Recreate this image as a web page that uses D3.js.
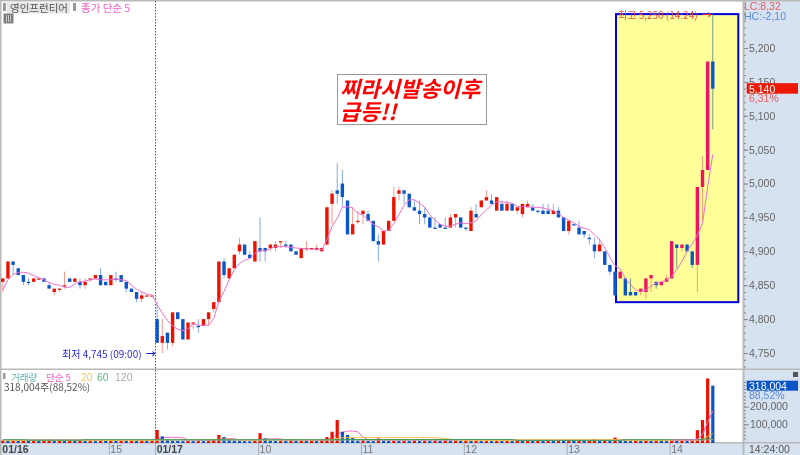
<!DOCTYPE html>
<html><head><meta charset="utf-8">
<script src="https://cdn.jsdelivr.net/npm/d3@7"></script>
<style>
html,body{margin:0;padding:0;background:#fff}
svg{display:block;filter:blur(0.35px)}
text{font-family:"Liberation Sans","Noto Sans CJK KR",sans-serif}
.kr{font-family:"Noto Sans CJK KR",sans-serif}
</style></head><body><svg id="c" width="800" height="455"></svg>
<script>
const open=[4855,4860,4885,4875,4865,4855,4855,4860,4860,4850,
4840,4845,4850,4860,4855,4855,4850,4860,4860,4865,
4855,4850,4860,4865,4855,4845,4840,4830,4835,4835,
4800,4765,4780,4765,4810,4800,4770,4795,4790,4790,
4800,4815,4825,4885,4860,4875,4900,4910,4895,4885,
4905,4905,4905,4905,4915,4910,4910,4900,4890,4905,
4905,4905,4900,4910,4970,4990,5000,4975,4925,4945,
4955,4955,4945,4915,4910,4930,4945,4985,4990,4985,
4965,4960,4955,4950,4935,4940,4935,4935,4950,4950,
4935,4930,4955,4965,4975,4975,4960,4970,4960,4970,
4960,4955,4965,4965,4960,4960,4960,4955,4960,4950,
4930,4940,4935,4930,4920,4910,4900,4900,4880,4870,
4860,4860,4840,4840,4840,4840,4860,4855,4850,4855,
4860,4910,4905,4910,4900,4880,4995,5020,5180];
const close=[4860,4885,4880,4865,4855,4855,4860,4860,4855,4845,
4845,4845,4850,4855,4860,4850,4855,4860,4865,4850,
4850,4865,4860,4855,4845,4840,4830,4835,4835,4835,
4765,4775,4765,4810,4800,4770,4795,4795,4790,4800,
4810,4825,4885,4865,4875,4895,4910,4895,4890,4915,
4900,4900,4910,4910,4915,4910,4900,4895,4905,4905,
4905,4905,4905,4965,4985,4985,4980,4925,4940,4945,
4960,4945,4915,4910,4930,4945,4980,4990,4985,4965,
4960,4955,4950,4935,4935,4935,4935,4950,4955,4935,
4935,4960,4950,4975,4980,4970,4980,4960,4970,4960,
4965,4970,4970,4960,4960,4955,4955,4960,4950,4930,
4945,4940,4925,4925,4920,4900,4910,4880,4870,4835,
4870,4835,4835,4835,4845,4860,4865,4850,4855,4860,
4915,4905,4910,4900,4880,4995,5020,5180,5140];
const high=[4860,4885,4885,4875,4865,4860,4860,4860,4860,4855,
4845,4845,4870,4860,4860,4860,4860,4860,4865,4875,
4855,4865,4870,4865,4855,4845,4840,4840,4835,4835,
4825,4800,4780,4810,4810,4800,4795,4795,4800,4800,
4810,4825,4885,4890,4875,4895,4920,4910,4900,4915,
4950,4905,4910,4915,4915,4915,4910,4900,4905,4915,
4905,4910,4905,4965,4990,5030,5020,4975,4965,4960,
4960,4960,4945,4925,4930,4945,4995,4995,4990,4985,
4975,4975,4965,4950,4950,4940,4950,4955,4955,4950,
4935,4965,4970,4975,4990,4985,4980,4975,4975,4970,
4965,4970,4975,4970,4960,4970,4970,4970,4965,4950,
4945,4940,4945,4930,4925,4920,4920,4900,4880,4870,
4870,4860,4860,4840,4845,4860,4865,4855,4855,4865,
4915,4910,4910,4910,4900,4995,5040,5180,5250];
const low=[4840,4860,4865,4865,4850,4850,4855,4860,4855,4845,
4835,4840,4845,4855,4855,4845,4845,4855,4860,4850,
4850,4850,4855,4855,4840,4840,4825,4825,4835,4835,
4765,4750,4755,4760,4800,4770,4770,4785,4780,4790,
4790,4810,4825,4860,4860,4875,4895,4895,4890,4885,
4885,4885,4900,4900,4905,4905,4900,4895,4890,4900,
4905,4900,4900,4910,4940,4970,4965,4925,4925,4940,
4940,4945,4915,4885,4910,4930,4945,4975,4970,4965,
4960,4940,4940,4935,4935,4935,4935,4935,4935,4935,
4930,4930,4950,4965,4975,4970,4960,4960,4960,4960,
4955,4950,4965,4960,4955,4955,4955,4955,4950,4930,
4925,4940,4925,4920,4910,4890,4900,4880,4865,4835,
4860,4835,4835,4835,4835,4830,4840,4845,4850,4855,
4860,4875,4900,4900,4875,4840,4945,5020,5080];
const candleDir=("rrbbbbrrbb rrrbrbrrrb brbbbbbrrr brbrbbrrbr rrrbrrrbbr "+
"bbrrrbbbrr rrrrrbbbrr rbbbrrrrbb bbbbbbbrrb brbrrbrbrb "+
"rrrbbbbrbb rbbbbbrbbb rbbbrrrbrr rbrbbrrrb").replace(/ /g,"").split("");
const priceMA=[4843,4858,4866,4869,4869,4868,4864,4861,4858,4854,
4851,4850,4847,4847,4852,4855,4856,4858,4859,4858,
4858,4858,4859,4858,4857,4850,4844,4840,4837,4835,
4821,4809,4798,4790,4785,4783,4786,4793,4791,4791,
4791,4801,4826,4841,4858,4873,4882,4887,4889,4897,
4901,4901,4904,4907,4907,4907,4906,4905,4904,4904,
4903,4903,4902,4917,4937,4949,4965,4966,4964,4956,
4954,4946,4940,4936,4930,4931,4941,4954,4968,4976,
4976,4971,4965,4954,4946,4940,4937,4937,4940,4942,
4941,4942,4945,4954,4961,4968,4973,4973,4972,4971,
4966,4966,4966,4965,4965,4964,4962,4960,4956,4950,
4946,4942,4937,4934,4932,4924,4917,4905,4891,4879,
4874,4860,4851,4843,4841,4843,4849,4853,4855,4858,
4863,4873,4885,4900,4911,4924,4941,4995,5043];
const volume=[8,6,8,6,8,6,8,6,8,14,
6,8,6,8,6,8,6,8,6,8,
6,8,6,8,6,8,6,8,6,8,
68,32,17,8,6,5,7,5,7,5,
8,12,40,28,12,8,6,5,4,8,
50,20,8,6,8,6,8,6,8,6,
8,6,10,28,58,124,58,40,22,8,
10,6,5,20,8,6,8,6,8,6,
8,6,8,6,8,6,8,6,8,6,
8,6,8,6,8,6,8,6,8,6,
8,6,8,6,8,6,8,6,8,6,
8,6,8,6,8,17,8,10,7,25,
8,6,5,9,6,8,6,8,6,5,
7,6,8,6,8,67,124,359,318];
const volMA5=[11,11,11,11,11,11,11,11,11,11,
11,11,11,11,11,11,11,11,11,11,
11,11,11,11,11,11,11,11,11,11,
20,24,26,26,26,24,12,11,11,11,
11,11,15,19,20,18,11,11,11,11,
14,18,18,18,18,11,11,11,11,11,
11,11,11,12,22,45,54,62,61,58,
28,12,11,11,11,11,11,11,11,11,
11,11,11,11,11,11,11,11,11,11,
11,11,11,11,11,11,11,11,11,11,
11,11,11,11,11,11,11,11,11,11,
11,11,11,11,11,11,11,11,11,13,
14,13,11,11,11,11,11,11,11,11,
11,11,11,11,11,16,41,112,175];
const volMA20=[9,9,9,9,9,9,9,9,9,9,
9,9,9,9,9,9,9,9,9,9,
9,9,9,9,9,9,9,9,9,9,
11,13,13,13,14,14,14,14,14,14,
14,14,15,16,16,14,12,11,11,11,
12,12,12,12,12,12,12,12,12,12,
12,12,12,13,15,21,24,25,25,25,
25,25,25,25,25,25,25,25,25,25,
25,25,25,25,24,22,20,16,12,10,
9,8,8,8,8,8,8,8,8,8,
13,13,13,13,13,13,13,13,13,13,
13,13,13,13,13,13,13,13,13,13,
13,9,9,9,9,9,9,9,9,9,
9,9,9,9,9,12,15,32,48];
const volMA60=[13,13,13,13,13,10,10,10,10,10,
10,10,10,10,10,10,13,13,13,13,
13,13,13,13,13,13,13,13,13,13,
13,13,13,13,13,13,13,13,13,13,
13,13,13,13,13,13,13,13,13,13,
13,13,13,13,13,13,13,13,13,13,
13,13,13,13,13,13,13,14,14,14,
14,14,14,14,14,14,14,14,14,14,
14,14,14,14,14,14,14,14,14,14,
14,14,14,14,14,14,14,14,14,14,
9,9,9,9,9,9,9,9,9,9,
9,9,9,9,9,9,9,9,9,9,
9,13,13,13,13,13,13,13,13,13,
13,13,13,13,13,14,15,18,20];
const volMA120=[10,10,10,10,10,13,13,13,13,13,
13,13,13,13,13,13,10,10,10,10,
10,10,10,10,10,10,10,10,10,10,
10,10,10,10,10,10,10,10,10,10,
10,10,10,10,10,10,10,10,10,10,
10,10,10,10,10,10,10,10,10,10,
10,10,10,10,10,10,10,10,10,10,
10,10,10,10,10,10,10,10,10,10,
10,10,10,10,10,10,10,10,10,10,
10,10,10,10,10,10,10,10,10,10,
10,10,10,10,10,10,10,10,10,10,
10,10,10,10,10,10,10,10,10,10,
10,10,10,10,10,10,10,10,10,10,
10,10,10,10,10,10,10,12,14];
const priceTicks=[5200,5150,5100,5050,5000,4950,4900,4850,4800,4750];
const volumeTicks=[200000,100000];
const timeIdx=[0,21,30,50,70,90,110,130];
const timeLabels=["01/16","15","01/17","10","11","12","13","14"];
const boxStartIdx=119;
const boxPrice=[5250,4825];

const W=800,H=455,axisX=743.5,paneBottom=369,timeTop=443;
const COL={r:"#ee1100",b:"#0a55c8",rw:"#f59a8f",bw:"#85a9ea",
  rBox:"#f01460",bBox:"#0a55c8",rwBox:"#f8a070",bwBox:"#6a9a90",
  panel:"#d6e2f0",edge:"#b9b9b9",tick:"#666"};

const svg=d3.select("#c");
const x=d3.scaleLinear().domain([0,138]).range([2.8,712.8]);
const y=d3.scaleLinear().domain([5200,4750]).range([48,353]);
const yV=d3.scaleLinear().domain([0,100000]).range([442,424.3]);
const idx=d3.range(open.length);

svg.append("rect").attr("width",W).attr("height",H).attr("fill","#fff");
svg.append("rect").attr("x",axisX).attr("y",1).attr("width",W-axisX).attr("height",H).attr("fill",COL.panel);
svg.append("rect").attr("x",0).attr("y",timeTop).attr("width",W).attr("height",H-timeTop).attr("fill",COL.panel);
svg.append("rect").attr("x",0).attr("y",0).attr("width",W).attr("height",1.5).attr("fill",COL.edge);
svg.append("rect").attr("x",0).attr("y",0).attr("width",1.5).attr("height",H).attr("fill",COL.edge);
svg.append("rect").attr("x",axisX-1).attr("y",0).attr("width",2).attr("height",H).attr("fill",COL.edge);
svg.append("rect").attr("x",0).attr("y",paneBottom-.5).attr("width",W).attr("height",1.5).attr("fill",COL.edge);
svg.append("rect").attr("x",0).attr("y",timeTop-1).attr("width",W).attr("height",1.5).attr("fill",COL.edge);

// yellow box
const boxX0=616,boxX1=738.3;
svg.append("rect").attr("x",boxX0).attr("y",y(boxPrice[0])).attr("width",boxX1-boxX0)
  .attr("height",y(boxPrice[1])-y(boxPrice[0])).attr("fill","#ffff99").attr("stroke","#0000e0").attr("stroke-width",2);

// dotted vertical
svg.append("line").attr("x1",155.5).attr("x2",155.5).attr("y1",1).attr("y2",timeTop)
  .attr("stroke","#555").attr("stroke-width",1).attr("stroke-dasharray","1.5 1.5");

// candles
const g=svg.append("g");
g.selectAll("line.w").data(idx).join("line").attr("class","w")
  .attr("x1",i=>x(i)).attr("x2",i=>x(i)).attr("y1",i=>y(high[i])).attr("y2",i=>y(low[i]))
  .attr("stroke",i=>{const k=candleDir[i];return i>=boxStartIdx?(k=="r"?COL.rwBox:COL.bwBox):(k=="r"?COL.rw:COL.bw)})
  .attr("stroke-width",1);
g.selectAll("rect.b").data(idx).join("rect").attr("class","b")
  .attr("x",i=>x(i)-1.7).attr("width",3.4)
  .attr("y",i=>y(Math.max(open[i],close[i])))
  .attr("height",i=>Math.max(1.3,Math.abs(y(open[i])-y(close[i]))))
  .attr("fill",i=>{const k=candleDir[i];return i>=boxStartIdx?(k=="r"?COL.rBox:COL.bBox):(k=="r"?COL.r:COL.b)});
svg.append("path").datum(idx).attr("fill","none").attr("stroke","#f070d0").attr("stroke-width",1)
  .attr("d",d3.line().x(i=>x(i)).y(i=>y(priceMA[i])));

// volume: moving averages and bars
const maLine=arr=>d3.line().x(i=>x(i)).y(i=>yV(arr[i]*1000));
svg.append("path").datum(idx).attr("fill","none").attr("stroke","#f070d0").attr("stroke-width",1).attr("d",maLine(volMA5));
svg.append("g").selectAll("rect").data(idx).join("rect")
  .attr("x",i=>x(i)-1.6).attr("width",3.2)
  .attr("y",i=>yV(volume[i]*1000)).attr("height",i=>yV(0)-yV(volume[i]*1000)+1)
  .attr("fill",i=>(i==0||volume[i]>=volume[i-1])?"#ee1100":"#0a55c8");
[[volMA120,"#aaaaaa"],[volMA20,"#f5c04a"],[volMA60,"#3f9a5a"]].forEach(([arr,c])=>{
  svg.append("path").datum(idx).attr("fill","none").attr("stroke",c).attr("stroke-width",1).attr("d",maLine(arr));
});
svg.append("path").datum(d3.range(130,139)).attr("fill","none").attr("stroke","#f070d0").attr("stroke-width",1).attr("d",maLine(volMA5));

// axes
function styleAxis(sel,fs){
  sel.select(".domain").remove();
  sel.selectAll("line").attr("stroke","#888");
  sel.selectAll("text").attr("fill",COL.tick).attr("font-size",fs);
}
svg.append("g").attr("transform",`translate(${axisX+.5},0)`)
  .call(d3.axisRight(y).tickValues(d3.range(4730,5270,10)).tickSize(2).tickFormat(""))
  .call(s=>styleAxis(s,10));
svg.append("g").attr("transform",`translate(${axisX+.5},0)`)
  .call(d3.axisRight(y).tickValues(priceTicks).tickSize(4).tickPadding(1).tickFormat(d3.format(",")))
  .call(s=>styleAxis(s,10.5));
svg.append("g").attr("transform",`translate(${axisX+.5},0)`)
  .call(d3.axisRight(yV).tickValues(d3.range(20000,360000,20000)).tickSize(2).tickFormat(""))
  .call(s=>s.selectAll("g").filter(d=>yV(d)<371).remove()).call(s=>styleAxis(s,10));
svg.append("g").attr("transform",`translate(${axisX+.5},0)`)
  .call(d3.axisRight(yV).tickValues(volumeTicks).tickSize(5).tickPadding(1).tickFormat(d3.format(",")))
  .call(s=>styleAxis(s,10.5));

// time axis
const tAxis=svg.append("g").attr("transform",`translate(0,${timeTop})`)
  .call(d3.axisBottom(x).tickValues(timeIdx).tickSize(0).tickFormat((d,i)=>timeLabels[i]));
tAxis.select(".domain").remove();
tAxis.selectAll("text").attr("text-anchor","start").attr("x",-1).attr("y",0).attr("dy","9.5").attr("font-size",10.5)
  .attr("fill",(d,i)=>timeLabels[i].includes("/")?"#444":"#777")
  .attr("font-weight",(d,i)=>timeLabels[i].includes("/")?"bold":"normal");
tAxis.selectAll("g.tick").filter(d=>d>0).append("rect").attr("x",-2.5).attr("y",0).attr("width",1).attr("height",12).attr("fill","#a8adb5");
svg.append("text").attr("x",749).attr("y",453).attr("font-size",10.5).attr("fill","#555").text("14:24:00");

const T=(px,py,s,c,fs,kr)=>svg.append("text").attr("x",px).attr("y",py).attr("font-size",fs).attr("fill",c).attr("class",kr?"kr":null).text(s);

// header
svg.append("rect").attr("x",3).attr("y",3).attr("width",3).attr("height",8).attr("fill","#999");
svg.append("rect").attr("x",7).attr("y",2.5).attr("width",63).attr("height",11).attr("fill","#e6e6e6");
T(10,12,"영인프런티어","#555",10.5,true);
svg.append("rect").attr("x",73).attr("y",3).attr("width",3).attr("height",8).attr("fill","#999");
T(81,12,"종가 단순 5","#f060c8",10.5,true);
const ic=svg.append("g");
ic.append("rect").attr("x",4).attr("y",14).attr("width",9).attr("height",9).attr("fill","#777").attr("stroke","#888");
ic.selectAll("line").data([6.5,8.5,10.5]).join("line").attr("x1",d=>d).attr("x2",d=>d).attr("y1",15).attr("y2",22).attr("stroke","#ddd").attr("stroke-width",.8);

T(744,10,"LC:8,32","#e86060",10.5);
T(744,20,"HC:-2,10","#5a88d8",10.5);
svg.append("rect").attr("x",746.7).attr("y",y(close[138])-5.5).attr("width",51.3).attr("height",10.5).attr("fill","#ee1800");
T(749,y(close[138])+4,d3.format(",")(close[138]),"#fff",10.5);
T(749,102,"6,31%","#e86060",10.5);
svg.append("rect").attr("x",746.7).attr("y",380.7).attr("width",51.3).attr("height",10).attr("fill","#0a55c8");
T(749,390,"318,004","#fff",10.5);
T(749,399,"88,52%","#5a88e0",10.5);
svg.append("rect").attr("x",793).attr("y",372).attr("width",5).attr("height",5).attr("fill","#555");

T(618,19,"최고 5,250 (14:24)","#f05050",10,true);
T(702,19,"→","#f03030",10,true).attr("font-weight","bold");
T(62,358,"최저 4,745 (09:00)","#2a2ae8",10,true);
T(146,358,"→","#1a1ae0",10,true).attr("font-weight","bold");

svg.append("rect").attr("x",337.5).attr("y",74.5).attr("width",149).attr("height",50).attr("fill","#fff").attr("stroke","#999");
[["찌라시발송이후",97],["급등!!",120]].forEach(([s,py])=>{
  svg.append("text").attr("x",340).attr("y",py).attr("class","kr").attr("font-size",21.8).attr("font-weight","bold")
    .attr("font-style","italic").attr("fill","#ff0000").text(s);
});

svg.append("rect").attr("x",3).attr("y",373).attr("width",2.5).attr("height",6).attr("fill","#999");
T(11,381,"거래량","#5ab0b0",9.5,true);
T(46,381,"단순 5","#f060c8",9.5,true);
T(81,381,"20","#f5c860",10.5);
T(97,381,"60","#60b880",10.5);
T(115,381,"120","#aaa",10.5);
T(4,391,"318,004주(88,52%)","#555",10,true);
</script></body></html>
